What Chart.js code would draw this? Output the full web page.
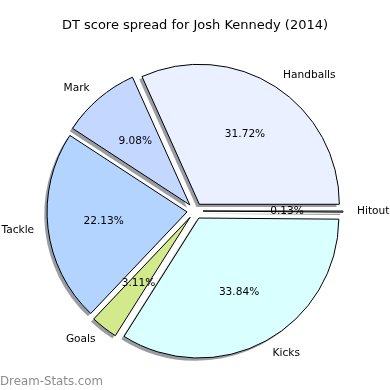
<!DOCTYPE html>
<html>
<head>
<meta charset="utf-8">
<script src="https://cdn.jsdelivr.net/npm/chart.js@4"></script>
<style>
  body { margin: 0; background: #fff; }
  canvas { display: block; }
</style>
</head>
<body>
<canvas id="pieChart" width="390" height="390"></canvas>
<script>
// slices in matplotlib order (counter-clockwise from 3 o'clock)
const categories = ["Handballs", "Mark", "Tackle", "Goals", "Kicks", "Hitout"];
const shares = [31.72, 9.08, 22.13, 3.11, 33.84, 0.13];
const colors = ["#eaf0ff", "#c4d8ff", "#b3d4ff", "#d2ea8c", "#d9ffff", "#ffffff"];

const titleText = "DT score spread for Josh Kennedy (2014)";
const watermark = "Dream-Stats.com";

// Chart.js goes clockwise, so flip the order
const labels = categories.slice().reverse();
const values = shares.slice().reverse();
const fills = colors.slice().reverse();

const EXPLODE = 8;
const FONT = "'DejaVu Sans', sans-serif";

const explodedPie = {
  id: "explodedPie",
  beforeDatasetDraw() {
    return false; // we draw the arcs ourselves below
  },
  afterDatasetsDraw(chart) {
    const ctx = chart.ctx;
    const arcs = chart.getDatasetMeta(0).data;

    // shadows first, under everything
    ctx.save();
    ctx.fillStyle = "rgba(70,75,85,0.55)";
    arcs.forEach((arc) => {
      const mid = (arc.startAngle + arc.endAngle) / 2;
      const cx = arc.x + Math.cos(mid) * EXPLODE - 2.8;
      const cy = arc.y + Math.sin(mid) * EXPLODE + 2.8;
      ctx.beginPath();
      ctx.moveTo(cx, cy);
      ctx.arc(cx, cy, arc.outerRadius, arc.startAngle, arc.endAngle);
      ctx.closePath();
      ctx.fill();
    });
    ctx.restore();

    // wedges
    arcs.forEach((arc) => {
      const mid = (arc.startAngle + arc.endAngle) / 2;
      ctx.save();
      ctx.translate(Math.cos(mid) * EXPLODE, Math.sin(mid) * EXPLODE);
      arc.draw(ctx);
      ctx.restore();
    });

    // labels and percentages
    ctx.save();
    ctx.fillStyle = "#000";
    ctx.font = "10.6px " + FONT;
    ctx.textBaseline = "middle";
    arcs.forEach((arc, i) => {
      const mid = (arc.startAngle + arc.endAngle) / 2;
      const cx = arc.x + Math.cos(mid) * EXPLODE;
      const cy = arc.y + Math.sin(mid) * EXPLODE;
      const r = arc.outerRadius;
      const lx = cx + Math.cos(mid) * r * 1.1;
      const ly = cy + Math.sin(mid) * r * 1.1;
      ctx.textAlign = Math.cos(mid) > 0 ? "left" : "right";
      ctx.fillText(labels[i], lx, ly);
      ctx.textAlign = "center";
      ctx.fillText(values[i].toFixed(2) + "%", cx + Math.cos(mid) * r * 0.6, cy + Math.sin(mid) * r * 0.6);
    });
    ctx.restore();
  },
  afterDraw(chart) {
    const ctx = chart.ctx;
    ctx.save();
    ctx.fillStyle = "#000";
    ctx.font = "13px " + FONT;
    ctx.textAlign = "center";
    ctx.textBaseline = "middle";
    ctx.fillText(titleText, 195, 26);
    ctx.fillStyle = "#8c8c8c";
    ctx.font = "11.8px " + FONT;
    ctx.textAlign = "left";
    ctx.textBaseline = "alphabetic";
    ctx.fillText(watermark, 0, 385);
    ctx.restore();
  },
};

document.addEventListener("DOMContentLoaded", () => {
  const ctx = document.getElementById("pieChart").getContext("2d");
  new Chart(ctx, {
    type: "pie",
    data: {
      labels: labels,
      datasets: [
        {
          data: values,
          backgroundColor: fills,
          borderColor: "#000",
          borderWidth: 1,
          borderJoinStyle: "miter",
          offset: 0,
          hoverOffset: 0,
        },
      ],
    },
    options: {
      responsive: false,
      animation: false,
      events: [],
      rotation: 90,
      radius: 140,
      layout: { padding: { top: 32, bottom: 0, left: 0, right: 0 } },
      plugins: { legend: { display: false }, title: { display: false }, tooltip: { enabled: false } },
    },
    plugins: [explodedPie],
  });
});
</script>
</body>
</html>
